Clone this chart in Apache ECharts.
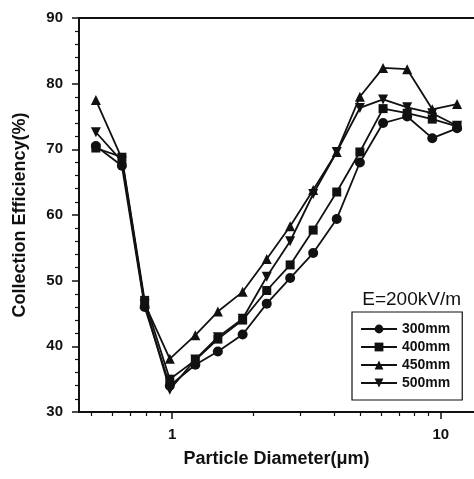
<!DOCTYPE html>
<html>
<head>
<meta charset="utf-8">
<script src="https://cdn.jsdelivr.net/npm/echarts@6/dist/echarts.min.js"></script>
<style>
    html, body { margin: 0; padding: 0; background: #fff; }
    #id-div-chart { width: 474px; height: 479px; }
</style>
</head>
<body>
<div id="id-div-chart"></div>
<script>
var log = console.log.bind(console)

var e = (selector) => document.querySelector(selector)

// 粒径 (μm)
var diameters = [0.52, 0.65, 0.79, 0.98, 1.22, 1.48, 1.83, 2.25, 2.75, 3.35, 4.1, 5.0, 6.1, 7.5, 9.3, 11.5]

// 捕集效率 (%)
var eff300 = [70.5, 67.5, 46.0, 34.0, 37.2, 39.2, 41.8, 46.5, 50.4, 54.2, 59.4, 68.0, 74.0, 75.0, 71.7, 73.2]
var eff400 = [70.2, 68.8, 47.0, 35.0, 37.9, 41.1, 44.0, 48.5, 52.4, 57.7, 63.5, 69.6, 76.2, 75.5, 74.6, 73.5]
var eff450 = [77.5, 68.6, 46.5, 38.1, 41.7, 45.3, 48.3, 53.3, 58.3, 63.8, 69.6, 78.0, 82.4, 82.2, 76.1, 76.9]
var eff500 = [72.6, 68.2, 46.4, 33.4, 38.0, 41.4, 44.2, 50.6, 56.0, 63.2, 69.6, 76.3, 77.6, 76.4, 75.5, 73.6]

var seriesNames = ['300mm', '400mm', '450mm', '500mm']

var xMajorTicks = [1, 10]
var xMinorTicks = [0.5, 0.6, 0.7, 0.8, 0.9, 2, 3, 4, 5, 6, 7, 8, 9]

var black = '#111'
var font = 'Liberation Sans, Arial, sans-serif'

var pairs = function(values) {
    var r = []
    for (var i = 0; i < diameters.length; i++) {
        r.push([diameters[i], values[i]])
    }
    return r
}

var line = function(name, values, symbol, size, rotate) {
    return {
        name: name,
        type: 'line',
        xAxisIndex: 0,
        data: pairs(values),
        symbol: symbol,
        symbolSize: size,
        symbolRotate: rotate || 0,
        showAllSymbol: true,
        lineStyle: { color: black, width: 1.8 },
        itemStyle: { color: black, borderWidth: 0 },
        emphasis: { disabled: true },
        animation: false,
    }
}

var xRange = { min: 0.45, max: 13.3 }

var option = {
    animation: false,
    title: {
        text: 'E=200kV/m',
        right: 8,
        top: 285,
        textStyle: { fontFamily: font, fontSize: 19, fontWeight: 'normal', color: black },
    },
    legend: {
        orient: 'vertical',
        left: 352,
        top: 312,
        width: 100,
        padding: [10, 12, 10, 8],
        borderColor: black,
        borderWidth: 1.2,
        itemWidth: 36,
        itemHeight: 11,
        itemGap: 4,
        data: seriesNames,
        textStyle: { fontFamily: font, fontSize: 14, fontWeight: 'bold', color: black },
    },
    grid: {
        left: 79,
        right: 0,
        top: 18,
        bottom: 67,
    },
    xAxis: [
        {
            type: 'log',
            position: 'bottom',
            min: xRange.min,
            max: xRange.max,
            name: 'Particle Diameter(μm)',
            nameLocation: 'middle',
            nameGap: 38,
            nameTextStyle: { fontFamily: font, fontSize: 18, fontWeight: 'bold', color: black },
            axisLine: { lineStyle: { color: black, width: 2 } },
            axisTick: { customValues: xMajorTicks, length: 7, lineStyle: { color: black, width: 1.5 } },
            axisLabel: {
                customValues: xMajorTicks,
                margin: 15,
                fontFamily: font, fontSize: 15, fontWeight: 'bold', color: black,
            },
            splitLine: { show: false },
        },
        {
            type: 'log',
            position: 'bottom',
            min: xRange.min,
            max: xRange.max,
            axisLine: { show: false },
            axisTick: { customValues: xMinorTicks, length: 4, lineStyle: { color: black, width: 1.2 } },
            axisLabel: { show: false },
            splitLine: { show: false },
        },
        {
            type: 'log',
            position: 'top',
            min: xRange.min,
            max: xRange.max,
            axisLine: { lineStyle: { color: black, width: 2 } },
            axisTick: { show: false },
            axisLabel: { show: false },
            splitLine: { show: false },
        },
    ],
    yAxis: {
        type: 'value',
        min: 30,
        max: 90,
        interval: 10,
        name: 'Collection Efficiency(%)',
        nameLocation: 'middle',
        nameGap: 50,
        nameRotate: 90,
        nameTextStyle: { fontFamily: font, fontSize: 18, fontWeight: 'bold', color: black },
        axisLine: { show: true, lineStyle: { color: black, width: 2 } },
        axisTick: { show: true, length: 7, lineStyle: { color: black, width: 1.5 } },
        minorTick: { show: true, splitNumber: 5, length: 4, lineStyle: { color: black, width: 1.2 } },
        axisLabel: { margin: 16, fontFamily: font, fontSize: 15, fontWeight: 'bold', color: black },
        splitLine: { show: false },
        minorSplitLine: { show: false },
    },
    series: [
        line('300mm', eff300, 'circle', 10),
        line('400mm', eff400, 'rect', 9),
        line('450mm', eff450, 'triangle', 10),
        line('500mm', eff500, 'triangle', 10, 180),
    ],
}

var __main = function() {
    var chart = echarts.init(e('#id-div-chart'), null, { renderer: 'canvas' })
    chart.setOption(option)
}

__main()
</script>
</body>
</html>
